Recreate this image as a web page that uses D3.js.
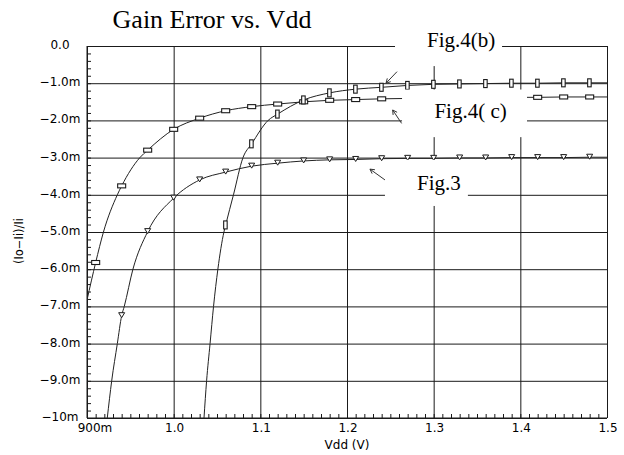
<!DOCTYPE html>
<html><head><meta charset="utf-8">
<script src="https://cdn.jsdelivr.net/npm/d3@7"></script>
<style>body{margin:0;background:#fff}svg{display:block}</style>
</head><body><svg id="c" width="624" height="455"></svg>
<script>
// ---------- data ----------
const chartTitle = "Gain Error vs. Vdd";
const xTitle = "Vdd (V)";
const yTitle = "(Io\u2212Ii)/Ii";
const xTicks = [0.9, 1.0, 1.1, 1.2, 1.3, 1.4, 1.5];
const xTickLabels = ["900m", "1.0", "1.1", "1.2", "1.3", "1.4", "1.5"];
const yTicks = [0, -1, -2, -3, -4, -5, -6, -7, -8, -9, -10];
const yTickLabels = ["0.0", "\u22121.0m", "\u22122.0m", "\u22123.0m", "\u22124.0m", "\u22125.0m",
                     "\u22126.0m", "\u22127.0m", "\u22128.0m", "\u22129.0m", "\u221210m"];

// Fig.4(c) curve (horizontal rectangles), values in m (1e-3)
const fig4cVdd = [0.90, 0.91, 0.919, 0.935, 0.94, 0.961, 0.97, 1.00, 1.03, 1.06, 1.09, 1.12, 1.15, 1.18,
                  1.21, 1.24, 1.27, 1.30, 1.33, 1.36, 1.39, 1.42, 1.45, 1.48, 1.50];
const fig4cErr = [-6.83, -5.82, -5.0, -4.0, -3.76, -3.0, -2.80, -2.24, -1.94, -1.74, -1.63, -1.56, -1.50, -1.46,
                  -1.44, -1.42, -1.41, -1.40, -1.39, -1.39, -1.38, -1.38, -1.37, -1.37, -1.37];
const fig4cMarks = [0.91, 0.94, 0.97, 1.00, 1.03, 1.06, 1.09, 1.12, 1.15, 1.18, 1.21, 1.24, 1.27, 1.30,
                    1.33, 1.36, 1.39, 1.42, 1.45, 1.48];

// Fig.4(b) curve (vertical rectangles)
const fig4bVdd = [1.035, 1.038, 1.042, 1.046, 1.051, 1.058, 1.06, 1.069, 1.08, 1.09, 1.109, 1.12, 1.15, 1.18,
                  1.21, 1.24, 1.27, 1.30, 1.33, 1.36, 1.39, 1.42, 1.45, 1.48, 1.50];
const fig4bErr = [-10, -9, -8, -7, -6, -5, -4.81, -4.0, -3.0, -2.63, -2.0, -1.83, -1.45, -1.26,
                  -1.16, -1.11, -1.06, -1.03, -1.02, -1.01, -1.00, -1.00, -0.99, -0.99, -0.99];
const fig4bMarks = [1.06, 1.09, 1.12, 1.15, 1.18, 1.21, 1.24, 1.27, 1.30, 1.33, 1.36, 1.39, 1.42, 1.45, 1.48];

// Fig.3 curve (triangles)
const fig3Vdd = [0.9234, 0.9285, 0.935, 0.94, 0.943, 0.953, 0.97, 1.00, 1.03, 1.06, 1.09, 1.12, 1.15, 1.18,
                 1.21, 1.24, 1.27, 1.30, 1.33, 1.36, 1.39, 1.42, 1.45, 1.48, 1.50];
const fig3Err = [-10, -9, -8, -7.25, -7, -6, -4.99, -4.09, -3.60, -3.39, -3.23, -3.15, -3.09, -3.06,
                 -3.05, -3.03, -3.02, -3.02, -3.01, -3.01, -3.00, -3.00, -3.00, -2.99, -2.99];
const fig3Marks = [0.94, 0.97, 1.00, 1.03, 1.06, 1.09, 1.12, 1.15, 1.18, 1.21, 1.24, 1.27, 1.30,
                   1.33, 1.36, 1.39, 1.42, 1.45, 1.48];

const annLabels = ["Fig.4(b)", "Fig.4( c)", "Fig.3"];

// ---------- drawing ----------
const svg = d3.select("#c");
const L = 87, R = 607, T = 46, B = 418;
const x = d3.scaleLinear().domain([0.9, 1.5]).range([L, R]);
const y = d3.scaleLinear().domain([0, -10]).range([T, B]);
const ink = "#1a1a1a";

svg.append("defs").append("clipPath").attr("id", "clip")
  .append("rect").attr("x", L).attr("y", T).attr("width", R - L).attr("height", B - T);

// grid (horizontal) via axis
const gy = svg.append("g").attr("transform", `translate(${L},0)`)
  .call(d3.axisLeft(y).tickValues(yTicks).tickSize(-(R - L)).tickFormat(""));
gy.select(".domain").remove();
gy.selectAll("line").attr("stroke", ink).attr("stroke-width", 1);

// grid (vertical)
const gx = svg.append("g").attr("transform", `translate(0,${B})`)
  .call(d3.axisBottom(x).tickValues(xTicks).tickSize(-(B - T)).tickFormat(""));
gx.select(".domain").remove();
gx.selectAll("line").attr("stroke", ink).attr("stroke-width", 1);

// frame
svg.append("line").attr("x1", L).attr("x2", L).attr("y1", T).attr("y2", B).attr("stroke", ink);
svg.append("line").attr("x1", L).attr("x2", R).attr("y1", B).attr("y2", B).attr("stroke", ink);

// minor ticks
const yMinor = d3.range(0, 51).map(i => -i * 0.2);
const gym = svg.append("g").attr("transform", `translate(${L},0)`)
  .call(d3.axisRight(y).tickValues(yMinor).tickSize(4).tickFormat(""));
gym.select(".domain").remove();
gym.selectAll("line").attr("stroke", ink);
const xMinor = d3.range(0, 61).map(i => 0.9 + i * 0.01);
const gxm = svg.append("g").attr("transform", `translate(0,${B})`)
  .call(d3.axisTop(x).tickValues(xMinor).tickSize(4).tickFormat(""));
gxm.select(".domain").remove();
gxm.selectAll("line").attr("stroke", ink);

// curves
const line = d3.line().x(d => x(d[0])).y(d => y(d[1])).curve(d3.curveMonotoneX);
const plot = svg.append("g").attr("clip-path", "url(#clip)");
function series(vdd, err) { return vdd.map((v, i) => [v, err[i]]); }
function lookup(vdd, err, v) { const i = vdd.findIndex(d => Math.abs(d - v) < 1e-6); return err[i]; }
[[fig4cVdd, fig4cErr], [fig4bVdd, fig4bErr], [fig3Vdd, fig3Err]].forEach(([v, e]) => {
  plot.append("path").datum(series(v, e)).attr("d", line)
    .attr("fill", "none").attr("stroke", "#222").attr("stroke-width", 1);
});

// markers
plot.selectAll(".m4c").data(fig4cMarks).join("rect")
  .attr("x", d => x(d) - 4).attr("y", d => y(lookup(fig4cVdd, fig4cErr, d)) - 2)
  .attr("width", 8).attr("height", 4).attr("fill", "#fff").attr("stroke", ink).attr("stroke-width", 1.1);
plot.selectAll(".m4b").data(fig4bMarks).join("rect")
  .attr("x", d => x(d) - 2).attr("y", d => y(lookup(fig4bVdd, fig4bErr, d)) - 4)
  .attr("width", 3.5).attr("height", 8).attr("fill", "#fff").attr("stroke", ink).attr("stroke-width", 1.1);
plot.selectAll(".m3").data(fig3Marks).join("path")
  .attr("d", d => { const cx = x(d), cy = y(lookup(fig3Vdd, fig3Err, d));
    return `M${cx - 3},${cy - 3}L${cx + 3},${cy - 3}L${cx},${cy + 2}Z`; })
  .attr("fill", "#fff").attr("stroke", ink).attr("stroke-width", 1);

// white annotation boxes (cover the plot)
const boxes = [[1.2554, 1.3789, 0.55, -0.54], [1.2635, 1.4077, -1.17, -2.45], [1.2438, 1.3395, -3.06, -4.3]];
boxes.forEach(b => svg.append("rect").attr("x", x(b[0])).attr("y", y(b[2]))
  .attr("width", x(b[1]) - x(b[0])).attr("height", y(b[3]) - y(b[2])).attr("fill", "#fff"));

// annotation labels
const annPos = [[1.2923, 47], [1.3009, 118], [1.2808, 190]];
annLabels.forEach((t, i) => svg.append("text").attr("x", x(annPos[i][0])).attr("y", annPos[i][1])
  .attr("font-family", "Liberation Serif, Times New Roman, serif").attr("font-size", 21)
  .attr("fill", "#000").text(t));

// arrows
const arrows = [[1.2577, -0.69, 1.245, -1.00], [1.263, -2.08, 1.2527, -1.72], [1.2438, -3.60, 1.2265, -3.31]];
arrows.forEach(a => {
  const x1 = x(a[0]), y1 = y(a[1]), x2 = x(a[2]), y2 = y(a[3]);
  const ang = Math.atan2(y2 - y1, x2 - x1), h = 5;
  svg.append("line").attr("x1", x1).attr("y1", y1).attr("x2", x2).attr("y2", y2)
    .attr("stroke", "#333").attr("stroke-width", 1);
  const p1 = [x2 - h * Math.cos(ang - 0.5), y2 - h * Math.sin(ang - 0.5)];
  const p2 = [x2 - h * Math.cos(ang + 0.5), y2 - h * Math.sin(ang + 0.5)];
  svg.append("path").attr("d", `M${p1}L${x2},${y2}L${p2}`).attr("fill", "none")
    .attr("stroke", "#333").attr("stroke-width", 1);
});

// tick labels
const tickFont = "DejaVu Sans, Verdana, sans-serif";
svg.selectAll(".yl").data(yTicks).join("text")
  .attr("x", 60).attr("y", d => y(d) - 1).attr("text-anchor", "middle")
  .attr("dominant-baseline", "central").attr("font-family", tickFont).attr("font-size", 12)
  .attr("fill", "#000").text((d, i) => yTickLabels[i]);
svg.selectAll(".xl").data(xTicks).join("text")
  .attr("x", (d, i) => x(d) + (i === 0 ? 8 : 1)).attr("y", 432).attr("text-anchor", "middle")
  .attr("font-family", tickFont).attr("font-size", 12).attr("fill", "#000")
  .text((d, i) => xTickLabels[i]);

// axis titles
svg.append("text").attr("x", 347).attr("y", 449).attr("text-anchor", "middle")
  .attr("font-family", tickFont).attr("font-size", 12).attr("fill", "#000").text(xTitle);
svg.append("text").attr("transform", "translate(23,241) rotate(-90)").attr("text-anchor", "middle")
  .attr("font-family", tickFont).attr("font-size", 11.5).attr("fill", "#000").text(yTitle);

// chart title
svg.append("text").attr("x", 212).attr("y", 28).attr("text-anchor", "middle")
  .attr("font-family", "Liberation Serif, Times New Roman, serif").attr("font-size", 26)
  .attr("fill", "#000").text(chartTitle);
</script></body></html>
